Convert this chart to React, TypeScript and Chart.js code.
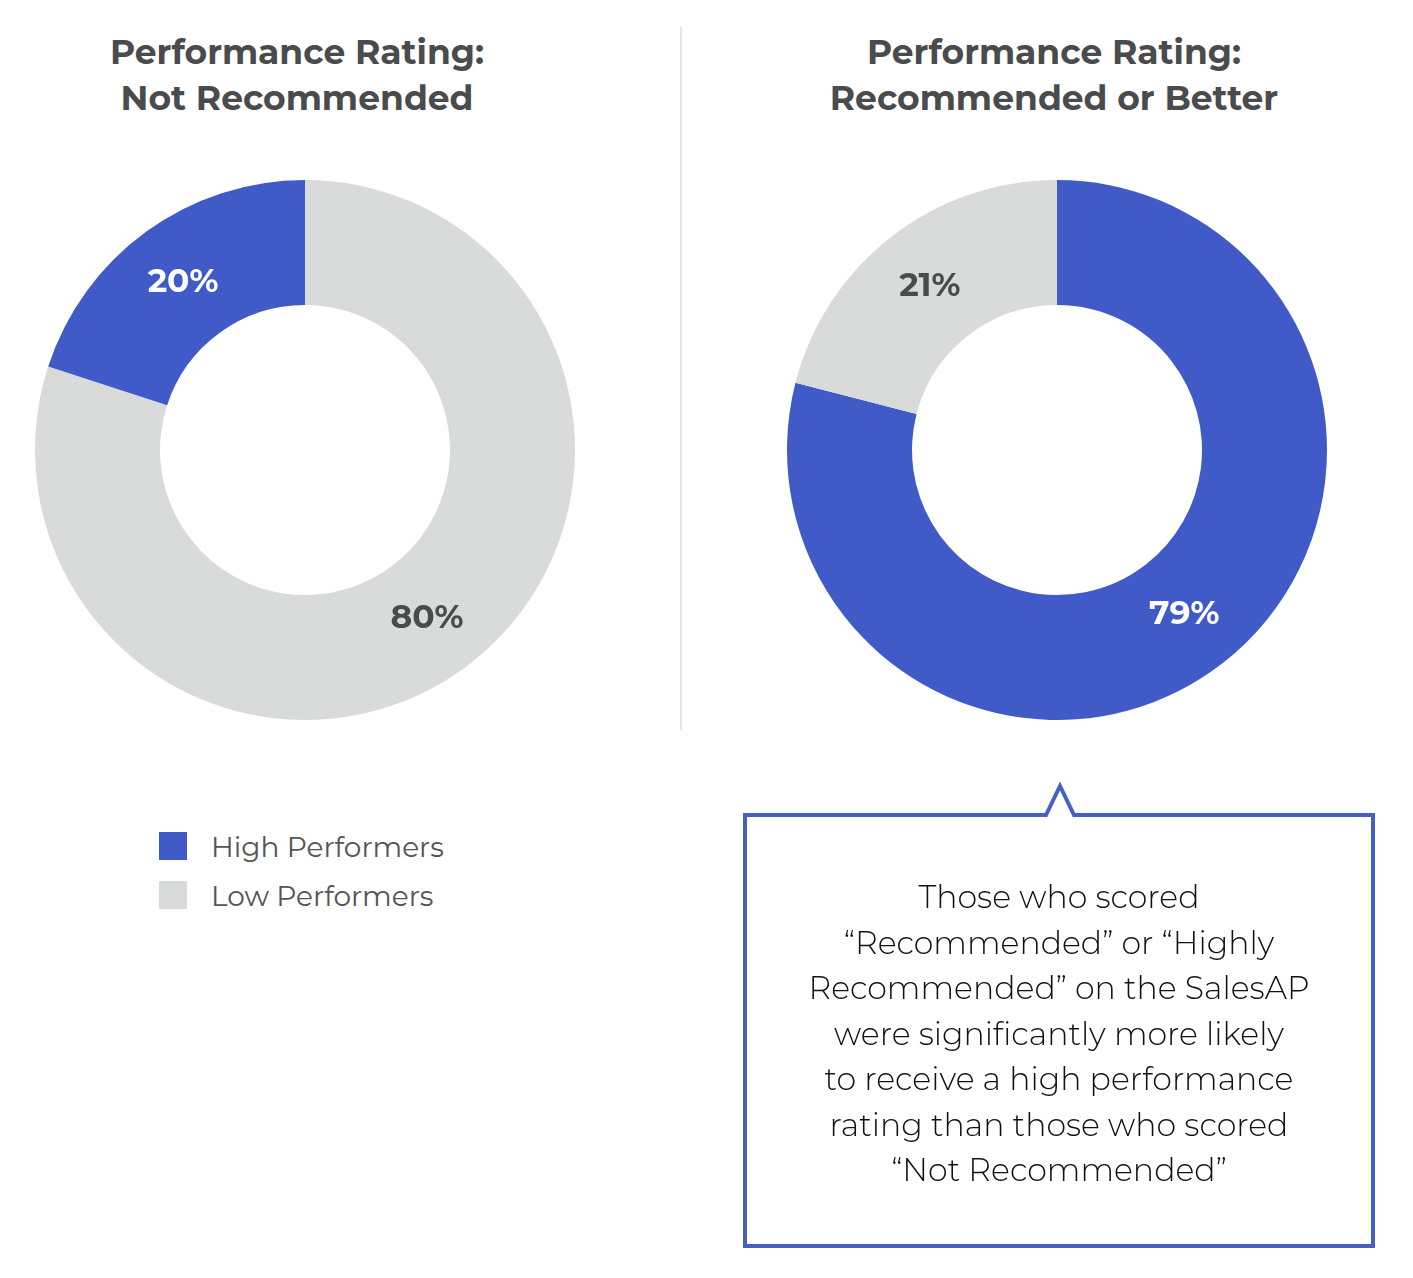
import React, { useEffect, useRef } from "react";
import { Chart, registerables } from "chart.js";

Chart.register(...registerables);

const categories = ["High Performers", "Low Performers"];
const leftTitle = ["Performance Rating:", "Not Recommended"];
const rightTitle = ["Performance Rating:", "Recommended or Better"];
// values in order drawn clockwise from the top
const leftLabels = ["Low Performers", "High Performers"];
const leftValues = [80, 20];
const rightLabels = ["High Performers", "Low Performers"];
const rightValues = [79, 21];
const calloutLines = [
  "Those who scored",
  "\u201CRecommended\u201D or \u201CHighly",
  "Recommended\u201D on the SalesAP",
  "were significantly more likely",
  "to receive a high performance",
  "rating than those who scored",
  "\u201CNot Recommended\u201D",
];

const BLUE = "#405BC7";
const GRAY = "#D9DADA";
const TEXT = "#4A4B4D";
const colorFor = (label: string) => (label === "High Performers" ? BLUE : GRAY);
const labelColorFor = (label: string) => (label === "High Performers" ? "#FFFFFF" : TEXT);

const FONT = "Montserrat, Inter, 'DejaVu Sans', sans-serif";

const pctPlugin = {
  id: "pctLabels",
  afterDatasetsDraw(chart: any) {
    const ctx = chart.ctx;
    const meta = chart.getDatasetMeta(0);
    const ds = chart.data.datasets[0];
    ctx.save();
    ctx.font = `bold 33px ${FONT}`;
    ctx.textAlign = "center";
    ctx.textBaseline = "middle";
    meta.data.forEach((arc: any, i: number) => {
      const p = arc.tooltipPosition();
      ctx.fillStyle = labelColorFor(chart.data.labels[i]);
      ctx.fillText(`${ds.data[i]}%`, p.x, p.y);
    });
    ctx.restore();
  },
};

function Donut({ labels, values, left, top }: { labels: string[]; values: number[]; left: number; top: number }) {
  const ref = useRef<HTMLCanvasElement>(null);
  useEffect(() => {
    if (!ref.current) return;
    const chart = new Chart(ref.current, {
      type: "doughnut",
      data: {
        labels,
        datasets: [
          {
            data: values,
            backgroundColor: labels.map(colorFor),
            borderWidth: 0,
          },
        ],
      },
      options: {
        animation: false,
        responsive: false,
        maintainAspectRatio: false,
        cutout: "53.7%",
        layout: { padding: 0 },
        plugins: { legend: { display: false }, tooltip: { enabled: false } },
      },
      plugins: [pctPlugin],
    });
    return () => chart.destroy();
  }, []);
  return (
    <canvas
      ref={ref}
      width={540}
      height={540}
      style={{ position: "absolute", left, top, width: 540, height: 540 }}
    />
  );
}

function Title({ lines, cx }: { lines: string[]; cx: number }) {
  return (
    <div
      style={{
        position: "absolute",
        left: cx - 350,
        top: 29,
        width: 700,
        textAlign: "center",
        fontFamily: FONT,
        fontWeight: 700,
        fontSize: 34.5,
        lineHeight: "46px",
        color: TEXT,
      }}
    >
      {lines.map((l, i) => (
        <div key={i}>{l}</div>
      ))}
    </div>
  );
}

export default function App() {
  useEffect(() => {
    document.body.style.margin = "0";
  }, []);
  return (
    <div style={{ position: "relative", width: 1413, height: 1278, background: "#fff", overflow: "hidden" }}>
      <Title lines={leftTitle} cx={297} />
      <Title lines={rightTitle} cx={1054} />
      <div style={{ position: "absolute", left: 680, top: 27, width: 2, height: 703, background: "#E6E6E6" }} />
      <Donut labels={leftLabels} values={leftValues} left={35} top={180} />
      <Donut labels={rightLabels} values={rightValues} left={787} top={180} />
      {categories.map((c, i) => (
        <div key={c} style={{ position: "absolute", left: 159, top: 832 + i * 48.5, height: 28 }}>
          <div style={{ position: "absolute", left: 0, top: 0, width: 28, height: 28, background: colorFor(c) }} />
          <div
            style={{
              position: "absolute",
              left: 52,
              top: -1,
              whiteSpace: "nowrap",
              fontFamily: FONT,
              fontSize: 28,
              lineHeight: "32px",
              color: "#555",
            }}
          >
            {c}
          </div>
        </div>
      ))}
      <svg width={1413} height={1278} style={{ position: "absolute", left: 0, top: 0, pointerEvents: "none" }}>
        <path
          d="M 745 815 L 1046 815 L 1060 786 L 1074 815 L 1373 815 L 1373 1246 L 745 1246 Z"
          fill="none"
          stroke="#4460C4"
          strokeWidth={4}
          strokeLinejoin="miter"
        />
      </svg>
      <div
        style={{
          position: "absolute",
          left: 745,
          top: 874,
          width: 628,
          textAlign: "center",
          fontFamily: FONT,
          fontWeight: 300,
          fontSize: 31.6,
          lineHeight: "45.5px",
          color: "#111",
        }}
      >
        {calloutLines.map((l, i) => (
          <div key={i}>{l}</div>
        ))}
      </div>
    </div>
  );
}
